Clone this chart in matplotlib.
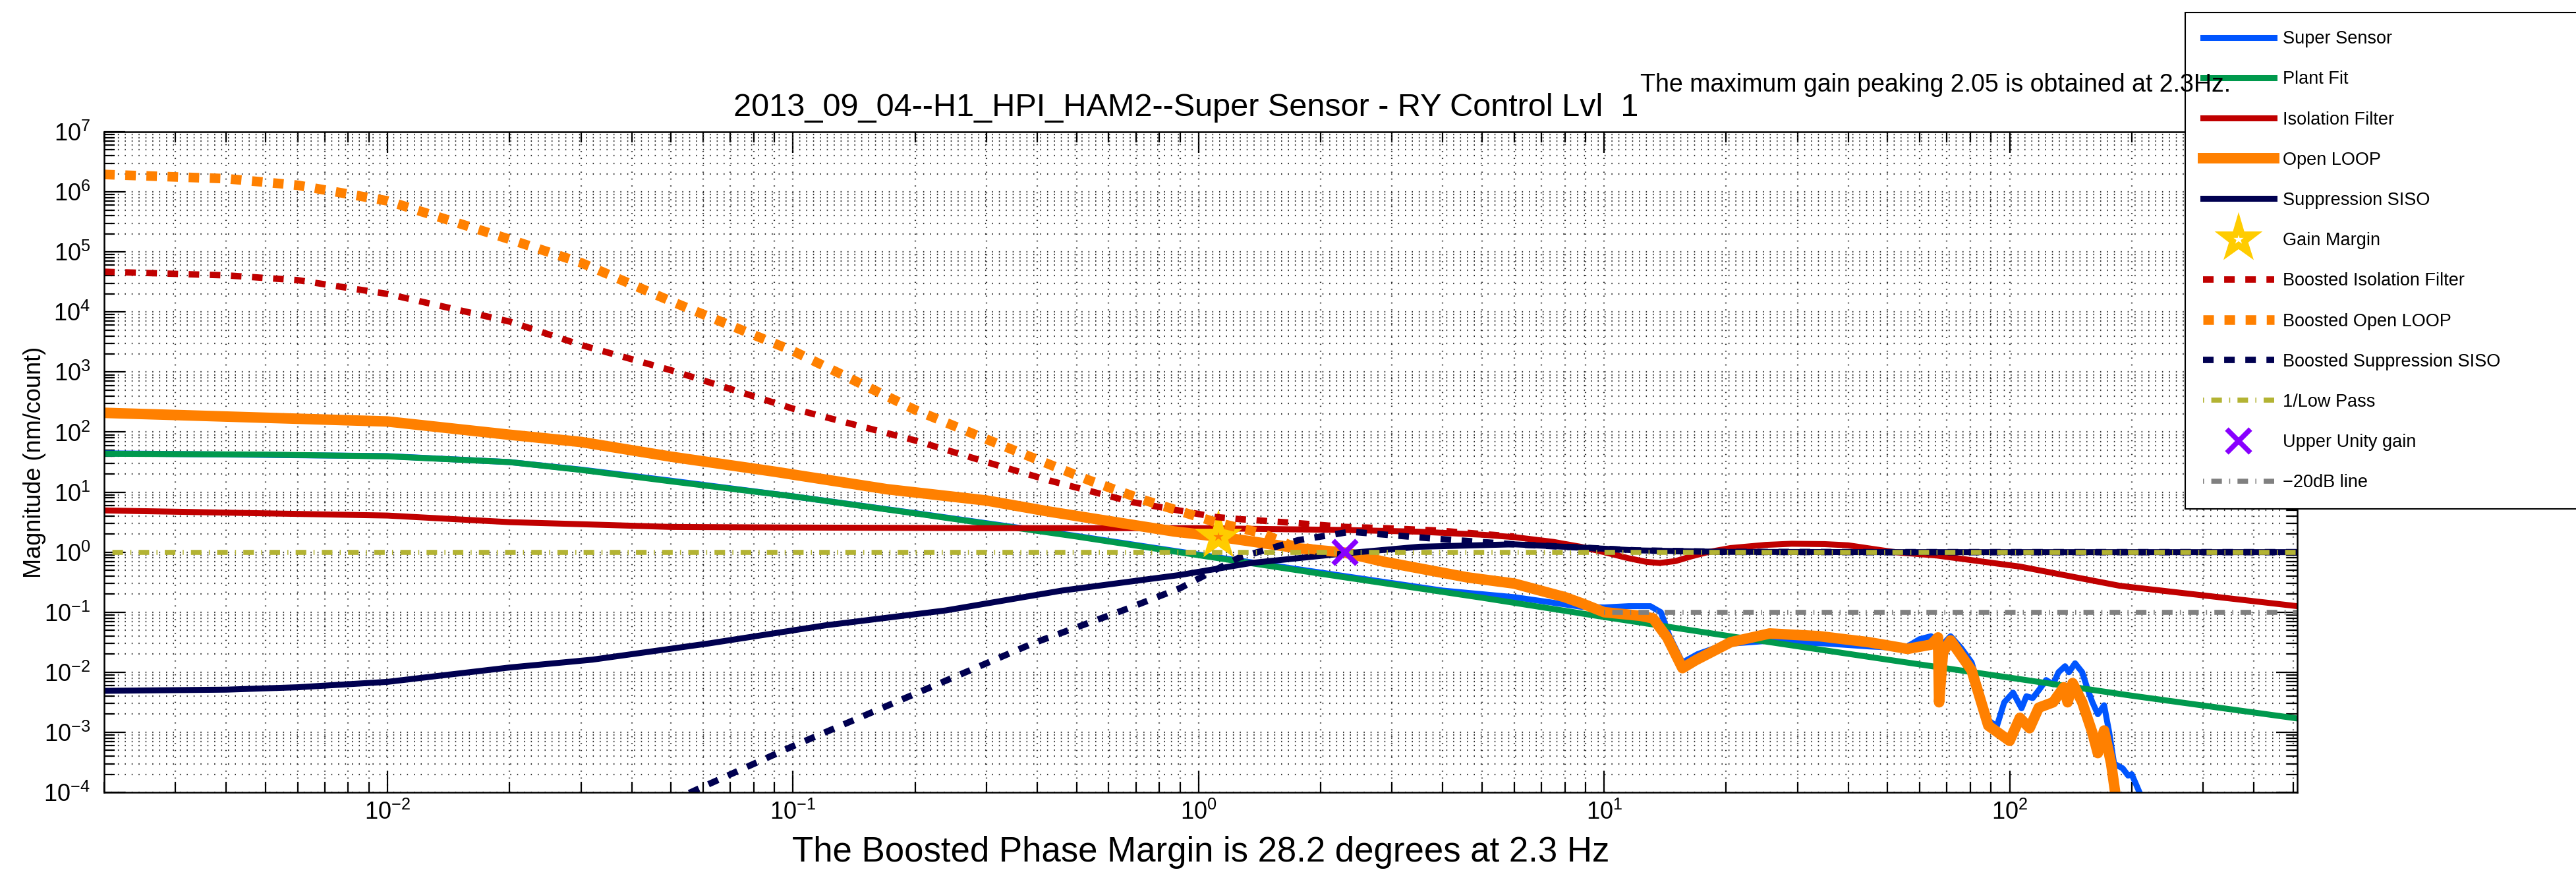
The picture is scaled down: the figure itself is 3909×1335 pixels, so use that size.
import matplotlib
matplotlib.use("Agg")
import matplotlib.pyplot as plt
from matplotlib.markers import MarkerStyle
from matplotlib.ticker import LogLocator, NullFormatter

plt.rcParams['font.family'] = ['Liberation Sans', 'DejaVu Sans']
plt.rcParams['mathtext.default'] = 'regular'

# ---------------- data (Hz, nm/count) ----------------
plant_f = [0.002, 0.005, 0.01, 0.02, 0.03, 0.05, 0.1, 0.2, 0.5, 1, 2, 5, 10, 20, 50, 100, 200, 512]
plant_m = [43.6, 42.2, 39.4, 31.6, 23.4, 15.1, 8.5, 4.42, 1.82, 0.89, 0.437, 0.174, 0.0832,
           0.0407, 0.0162, 0.00813, 0.00407, 0.0017]

sensor_f = [0.002, 0.01, 0.02, 0.03, 0.05, 0.1, 0.2, 0.5, 1.0, 2.0, 4.0, 6.0, 8.8, 10, 11.5, 13.0,
            13.8, 14.5, 15.6, 17, 20, 25, 35, 45, 55, 60, 64, 67, 71.5, 76, 80.6, 88.6, 93, 97,
            102, 107, 110, 114, 118, 123, 128, 132, 137, 140, 145, 151, 156, 160, 165, 171, 176,
            181, 190, 196, 200, 206, 212]
sensor_m = [44.2, 39.8, 31.6, 23.7, 15.5, 8.5, 4.47, 1.86, 0.912, 0.457, 0.229, 0.178, 0.123,
            0.12, 0.126, 0.126, 0.1, 0.0398, 0.0145, 0.02, 0.0295, 0.0331, 0.0302, 0.0269,
            0.0251, 0.0355, 0.0398, 0.0251, 0.0398, 0.0251, 0.0145, 0.00158, 0.00126, 0.00316,
            0.00457, 0.00251, 0.00398, 0.00372, 0.00501, 0.00741, 0.00631, 0.01, 0.0126, 0.01,
            0.0141, 0.01, 0.00501, 0.00316, 0.002, 0.00282, 0.001, 0.0003, 0.000251, 0.00019,
            0.0002, 0.000126, 0.00008]

iso_f = [0.002, 0.01, 0.02, 0.03, 0.05, 0.1, 0.3, 1, 2.3, 3.5, 5, 6, 7.5, 8.75, 10, 11.5, 12.7,
         13.7, 15, 16.4, 18, 20.5, 25, 29, 35, 40, 52, 66, 106, 187, 512]
iso_m = [4.95, 4.07, 3.16, 2.92, 2.63, 2.57, 2.51, 2.51, 2.34, 2.19, 1.95, 1.78, 1.48, 1.23, 1.0,
         0.79, 0.69, 0.66, 0.71, 0.85, 1.0, 1.17, 1.32, 1.38, 1.36, 1.30, 1.0, 0.88, 0.575,
         0.275, 0.126]

ol_f = [0.002, 0.01, 0.02, 0.03, 0.05, 0.09, 0.17, 0.3, 0.43, 0.87, 1.12, 1.78, 2.3, 2.87, 4.6,
        6.0, 8.0, 8.8, 10, 12.3, 13.2, 14.3, 15.6, 16.8, 20.5, 25.6, 34, 45, 56, 64, 66.6, 67,
        68.5, 71.5, 80.6, 88.6, 93.8, 100, 106, 112, 118, 128, 136, 139, 143, 151, 160, 165,
        171, 178, 184]
ol_m = [209, 150, 90.2, 68.4, 38.9, 21.9, 11.2, 7.24, 4.71, 2.21, 1.81, 1.15, 0.98, 0.69, 0.38,
        0.30, 0.178, 0.141, 0.1, 0.087, 0.079, 0.038, 0.0117, 0.0158, 0.0316, 0.0442, 0.0398,
        0.0316, 0.0245, 0.0288, 0.038, 0.00316, 0.0214, 0.0339, 0.0107, 0.00129, 0.00098,
        0.00072, 0.00174, 0.00117, 0.00257, 0.00316, 0.00562, 0.00316, 0.0066, 0.00316,
        0.00098, 0.00045, 0.00107, 0.0003, 0.00006]

sup_f = [0.002, 0.004, 0.006, 0.01, 0.02, 0.032, 0.062, 0.12, 0.238, 0.46, 0.9, 1.35, 2.3, 3.5,
         6, 9.3, 12, 20, 50, 512]
sup_m = [0.0049, 0.00513, 0.00562, 0.00692, 0.012, 0.0162, 0.0302, 0.0603, 0.107, 0.229, 0.417,
         0.661, 0.955, 1.23, 1.35, 1.17, 1.07, 1.01, 1.0, 1.0]

biso_f = [0.002, 0.004, 0.006, 0.01, 0.02, 0.03, 0.05, 0.1, 0.2, 0.3, 0.43, 0.69, 1.1, 1.26, 1.78,
          2.3, 2.87, 3.9, 6]
biso_m = [46800, 40700, 33900, 19950, 6920, 2820, 1070, 245, 72.4, 31.6, 15.5, 6.76, 3.85, 3.55,
          3.02, 2.63, 2.51, 2.29, 1.82]

bol_f = [0.002, 0.004, 0.006, 0.01, 0.02, 0.03, 0.05, 0.1, 0.2, 0.3, 0.54, 0.74, 1.1, 1.44, 1.67,
         2.0, 2.3]
bol_m = [1.95e6, 1.66e6, 1.29e6, 7.08e5, 1.62e5, 6.61e4, 1.51e4, 2240, 234, 75.9, 15.5, 7.24,
         3.16, 2.04, 1.33, 1.05, 0.98]

bsup_f = [0.04, 0.058, 0.1, 0.2, 0.39, 0.65, 0.9, 1.26, 1.76, 2.37, 2.9, 3.9, 6, 9.3, 12, 20, 50, 512]
bsup_m = [3.5e-5, 1.12e-4, 5.89e-4, 4.37e-3, 0.0302, 0.107, 0.251, 0.813, 1.58, 2.19, 1.95, 1.66,
          1.35, 1.17, 1.07, 1.01, 1.0, 1.0]

lowpass_f = [0.002, 512]
lowpass_m = [1.0, 1.0]

db20_f = [10, 512]
db20_m = [0.1, 0.1]

gm_f, gm_m = [1.12], [1.81]
ug_f, ug_m = [2.3], [1.0]

labels = ['Super Sensor', 'Plant Fit', 'Isolation Filter', 'Open LOOP', 'Suppression SISO',
          'Gain Margin', 'Boosted Isolation Filter', 'Boosted Open LOOP',
          'Boosted Suppression SISO', '1/Low Pass', 'Upper Unity gain', '\u221220dB line']

title = '2013_09_04--H1_HPI_HAM2--Super Sensor - RY Control Lvl  1'
note = 'The maximum gain peaking 2.05 is obtained at 2.3Hz.'
xlabel = 'The Boosted Phase Margin is 28.2 degrees at 2.3 Hz'
ylabel = 'Magnitude (nm/count)'

# ---------------- figure ----------------
W, H = 3909, 1335
fig = plt.figure(figsize=(W / 100, H / 100), dpi=100)
L, R, T, B = 158, 3486, 200, 1202
ax = fig.add_axes([L / W, 1 - B / H, (R - L) / W, (B - T) / H])
ax.set_xscale('log')
ax.set_yscale('log')

c_blue = '#0055ff'
c_green = '#00994d'
c_red = '#c00000'
c_orange = '#ff8000'
c_navy = '#000050'
c_gold = '#ffcc00'
c_olive = '#b3b333'
c_purple = '#8800ff'
c_grey = '#808080'

lw_thin = 6.5
h = []
h += ax.plot(sensor_f, sensor_m, color=c_blue, lw=lw_thin, solid_joinstyle='round')
h += ax.plot(plant_f, plant_m, color=c_green, lw=lw_thin)
h += ax.plot(iso_f, iso_m, color=c_red, lw=lw_thin)
h += ax.plot(ol_f, ol_m, color=c_orange, lw=11.5, solid_joinstyle='round')
h += ax.plot(sup_f, sup_m, color=c_navy, lw=lw_thin)
star = MarkerStyle('*', fillstyle='none', joinstyle='miter')
h += ax.plot(gm_f, gm_m, linestyle='None', marker=star, ms=34, mew=7, color=c_gold)
h += ax.plot(biso_f, biso_m, color=c_red, lw=7, linestyle=(0, (1.65, 1.65)))
h += ax.plot(bol_f, bol_m, color=c_orange, lw=10.5, linestyle=(0, (1.1, 1.1)))
h += ax.plot(bsup_f, bsup_m, color=c_navy, lw=7, linestyle=(0, (1.65, 1.65)))
h += ax.plot(lowpass_f, lowpass_m, color=c_olive, lw=5.5, linestyle=(0, (0.2, 1.45, 2.1, 1.45)))
h += ax.plot(ug_f, ug_m, linestyle='None', marker='x', ms=26, mew=5.5, color=c_purple)
h += ax.plot(db20_f, db20_m, color=c_grey, lw=5.5, linestyle=(0, (0.2, 1.45, 2.1, 1.45)))

ax.set_xlim(0.002, 512)
ax.set_ylim(1e-4, 1e7)

ax.xaxis.set_major_locator(LogLocator(base=10, numticks=30))
ax.yaxis.set_major_locator(LogLocator(base=10, numticks=30))
ax.xaxis.set_minor_locator(LogLocator(base=10, subs=range(2, 10), numticks=300))
ax.yaxis.set_minor_locator(LogLocator(base=10, subs=range(2, 10), numticks=300))
ax.xaxis.set_minor_formatter(NullFormatter())
ax.yaxis.set_minor_formatter(NullFormatter())

ax.grid(True, which='both', color='#303030', lw=1.6, linestyle=(0, (0.7, 4)))
ax.tick_params(which='both', direction='in', top=True, right=True, width=1.6, color='k')
ax.tick_params(which='major', length=23, labelsize=26)
ax.tick_params(which='minor', length=11.5)
ax.tick_params(axis='x', which='major', pad=9)
ax.tick_params(axis='y', which='major', pad=15)
for s in ax.spines.values():
    s.set_linewidth(1.8)

ax.set_ylabel(ylabel, fontsize=26)
ax.yaxis.set_label_coords(-0.0265, 0.5)
ax.set_xlabel(xlabel, fontsize=38)
ax.xaxis.label.set_va('baseline')
ax.xaxis.set_label_coords(0.5, (B - 1307) / (B - T))

fig.text(1800 / W, 1 - 176 / H, title, ha='center', va='baseline', fontsize=35)

leg = ax.legend(h, labels, loc='upper left', bbox_to_anchor=(3316 / W, 1 - 19 / H, 0.2, 0),
                bbox_transform=fig.transFigure, mode='expand', fontsize=19.5, frameon=True,
                fancybox=False, edgecolor='k', framealpha=1, borderpad=1.0, labelspacing=1.3,
                handlelength=4.0, handletextpad=0.45, borderaxespad=0)
leg.get_frame().set_linewidth(1.5)

fig.text(3385 / W, 1 - 139 / H, note, ha='right', va='baseline', fontsize=27, zorder=10)

fig.savefig('out.png', dpi=100)
